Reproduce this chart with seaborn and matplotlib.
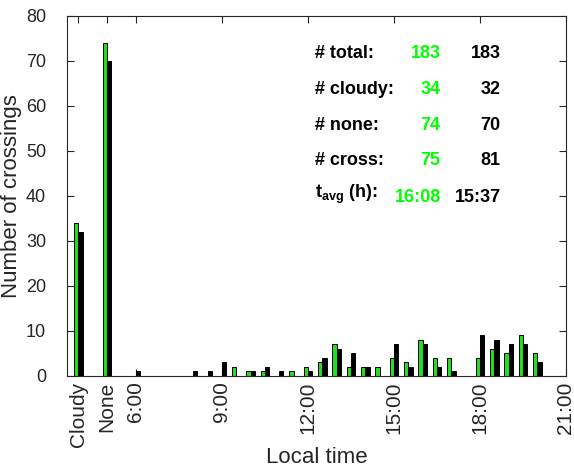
import numpy as np
import pandas as pd
import matplotlib
matplotlib.use("Agg")
import matplotlib.pyplot as plt
import seaborn as sns

# Crossing counts: two cloud categories followed by half-hour local-time bins
categories = ["Cloudy", "None"]
cat_positions = [4.0, 5.0]
green_cat = [34, 74]
black_cat = [32, 70]

# half-hour bins from 6:00 to 20:30 (bin start, in hours)
bin_starts = [6.0, 6.5, 7.0, 7.5, 8.0, 8.5, 9.0, 9.5, 10.0, 10.5,
              11.0, 11.5, 12.0, 12.5, 13.0, 13.5, 14.0, 14.5, 15.0, 15.5,
              16.0, 16.5, 17.0, 17.5, 18.0, 18.5, 19.0, 19.5, 20.0, 20.5]
green_time = [0, 0, 0, 0, 0, 0, 0, 2, 1, 1,
              0, 1, 2, 3, 7, 2, 2, 2, 4, 3,
              8, 4, 4, 0, 4, 6, 5, 9, 5, 0]
black_time = [1, 0, 0, 0, 1, 1, 3, 0, 1, 2,
              1, 0, 1, 4, 6, 5, 2, 0, 7, 2,
              7, 2, 1, 0, 9, 8, 7, 7, 3, 0]

tick_positions = [4, 5, 6, 9, 12, 15, 18, 21]
tick_labels = ["Cloudy", "None", "6:00", "9:00", "12:00", "15:00", "18:00", "21:00"]

# summary table shown in the upper right
stat_names = ["# total:", "# cloudy:", "# none:", "# cross:"]
green_stats = ["183", "34", "74", "75"]
black_stats = ["183", "32", "70", "81"]
green_tavg = "16:08"
black_tavg = "15:37"

GREEN = "#00ff00"
INK = "#262626"

positions = cat_positions + bin_starts
df = pd.DataFrame({
    "pos": positions * 2,
    "count": green_cat + green_time + black_cat + black_time,
    "set": ["A"] * len(positions) + ["B"] * len(positions),
})

sns.set_theme(style="ticks")
plt.rcParams["font.family"] = ["Liberation Sans", "DejaVu Sans"]
plt.rcParams["mathtext.fontset"] = "custom"
plt.rcParams["mathtext.rm"] = "Liberation Sans"
plt.rcParams["mathtext.bf"] = "Liberation Sans:bold"
plt.rcParams["mathtext.it"] = "Liberation Sans:italic"

fig = plt.figure(figsize=(5.74, 4.69), dpi=100)
ax = fig.add_axes([0.1167, 0.1983, 0.8693, 0.7676])

sns.barplot(data=df, x="pos", y="count", hue="set", native_scale=True,
            palette={"A": GREEN, "B": "black"}, width=0.6, errorbar=None,
            edgecolor="black", linewidth=0.7, legend=False, ax=ax)

ax.set_xlim(3.6, 21.0)
ax.set_ylim(0, 80)
ax.set_xticks(tick_positions)
ax.set_xticklabels(tick_labels, rotation=90, fontsize=15, color=INK)
ax.set_yticks(np.arange(0, 81, 10))
ax.tick_params(axis="y", labelsize=13, labelcolor=INK, pad=15)
ax.tick_params(axis="x", pad=4)
ax.tick_params(direction="in", length=5, width=0.8, color=INK,
               top=True, right=True)
for sp in ax.spines.values():
    sp.set_visible(True)
    sp.set_color(INK)
    sp.set_linewidth(0.8)

ax.set_xlabel("Local time", fontsize=16, color=INK, labelpad=0)
ax.set_ylabel("Number of crossings", fontsize=16, color=INK)
ax.yaxis.set_label_coords(-0.090, 0.5)

row_y = [71.6, 63.6, 55.7, 47.8]
for name, g, b, y in zip(stat_names, green_stats, black_stats, row_y):
    ax.text(12.25, y, name, fontsize=13, fontweight="bold", color="black",
            ha="left", va="center")
    ax.text(16.63, y, g, fontsize=13, fontweight="bold", color=GREEN,
            ha="right", va="center")
    ax.text(18.73, y, b, fontsize=13, fontweight="bold", color="black",
            ha="right", va="center")

ax.text(12.25, 40.3, r"$\mathbf{t_{avg}}$ (h):", fontsize=13,
        fontweight="bold", color="black", ha="left", va="center")
ax.text(16.63, 39.6, green_tavg, fontsize=13, fontweight="bold",
        color=GREEN, ha="right", va="center")
ax.text(18.73, 39.6, black_tavg, fontsize=13, fontweight="bold",
        color="black", ha="right", va="center")

fig.savefig("out.png", dpi=100)
